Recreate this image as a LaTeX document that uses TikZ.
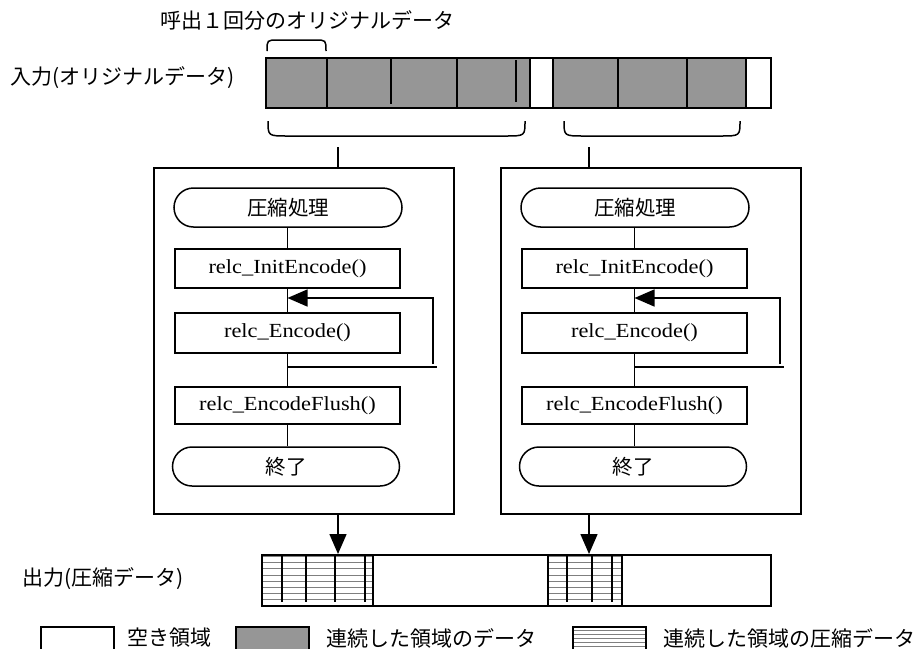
\documentclass[tikz,border=0pt]{standalone}
\usepackage{fontspec}
\newfontfamily\jpfont{Noto Sans CJK JP}
\newfontfamily\serfont[FakeStretch=1.12]{Liberation Serif}
\usetikzlibrary{shapes.misc,arrows.meta}
\definecolor{datagray}{HTML}{969696}
\definecolor{hatchgray}{HTML}{7F7F7F}
\begin{document}
\begin{tikzpicture}[x=1pt,y=-1pt,
  jp/.style={font=\jpfont\fontsize{21}{24}\selectfont, inner sep=0pt},
  term/.style={draw, line width=1.5pt, rounded rectangle, minimum width=228, minimum height=39, font=\jpfont\fontsize{20.5}{24}\selectfont, inner sep=0pt},
  proc/.style={draw, line width=1.5pt, rectangle, minimum width=225, minimum height=39, font=\serfont\fontsize{20}{24}\selectfont, inner sep=0pt},
  outerbox/.style={draw, line width=1.5pt, minimum width=300, minimum height=346, inner sep=0pt, anchor=north west},
  conn/.style={line width=1.5pt},
  arrowhd/.style={-{Triangle[length=20pt,width=17pt]}},
  hatchline/.style={draw=hatchgray, line width=0.7pt},
  divline/.style={line width=1.8pt},
  bar/.style={draw, line width=1.8pt, inner sep=0pt, anchor=north west},
  lgbox/.style={draw, line width=1.5pt, minimum width=73, minimum height=30, inner sep=0pt, anchor=north west}
]
\useasboundingbox (0,0) rectangle (920,648);
\clip (0,0) rectangle (920,648);

% ---------- top label and small brace
\node[jp] (calllbl) at (307,20) {呼出１回分のオリジナルデータ};
\draw[conn] (267,51) .. controls (267,40) .. (278,40) -- (315,40) .. controls (326,40) .. (326,51);

% ---------- input bar
\node[jp, anchor=west] (inlbl) at (10,78) {入力(オリジナルデータ)};
\fill[datagray] (265,57) rectangle (530,107);
\fill[datagray] (553,57) rectangle (746,107);
\node[bar, minimum width=505, minimum height=50] (inbar) at (265,57) {};
\draw[divline] (327,57) -- (327,107);
\draw[divline] (391,57) -- (391,104);
\draw[divline] (457,57) -- (457,107);
\draw[divline] (516,60) -- (516,102);
\draw[divline] (530,57) -- (530,107);
\draw[divline] (553,57) -- (553,107);
\draw[divline] (618,57) -- (618,107);
\draw[divline] (687,57) -- (687,107);
\draw[divline] (746,57) -- (746,107);

% ---------- lower braces
\draw[conn] (268,121) .. controls (268,136) .. (288,136) -- (505,136) .. controls (525,136) .. (525,121);
\draw[conn] (564,121) .. controls (564,136) .. (584,136) -- (720,136) .. controls (740,136) .. (740,121);
\coordinate (stemL) at (338,147);
\coordinate (stemR) at (589,147);

% ---------- the two flowcharts
\foreach \n/\dx in {L/0,R/347}{
  \node[outerbox] (box\n) at (153+\dx,167) {};
  \node[term] (start\n) at (288+\dx,207.5) {圧縮処理};
  \node[proc] (init\n) at (287.5+\dx,268.5) {relc\_InitEncode()};
  \node[proc, minimum height=40] (enc\n) at (287.5+\dx,333) {relc\_Encode()};
  \node[proc, minimum height=37] (flush\n) at (287.5+\dx,405.5) {relc\_EncodeFlush()};
  \node[term, minimum width=227] (end\n) at (286+\dx,466.5) {終了};
  \coordinate (j\n) at (287.5+\dx,367);
  \coordinate (je\n) at (437+\dx,367);
  \coordinate (lt\n) at (433+\dx,364);
  \coordinate (lb\n) at (433+\dx,298);
  \coordinate (la\n) at (287.5+\dx,298);
  \draw[conn] (start\n.south -| init\n) -- (init\n.north);
  \draw[conn] (init\n) -- (enc\n);
  \draw[conn] (enc\n) -- (flush\n);
  \draw[conn] (flush\n.south) -- (end\n.north -| flush\n);
  \draw[conn] (j\n) -- (je\n);
  \draw[conn, arrowhd] (lt\n) -- (lb\n) -- (la\n);
}
\draw[conn] (stemL) -- (stemL |- boxL.north);
\draw[conn] (stemR) -- (stemR |- boxR.north);

% ---------- output bar
\node[jp, anchor=west] (outlbl) at (22,579) {出力(圧縮データ)};
\foreach \y in {556.6,562.7,...,600}{
  \draw[hatchline] (261,\y) -- (373,\y);
  \draw[hatchline] (548,\y) -- (622,\y);
}
\node[bar, minimum width=509, minimum height=51] (outbar) at (261,554) {};
\foreach \x in {282,306,335,365,567,592,612}{
  \draw[divline] (\x,554) -- (\x,602);
}
\draw[divline] (373,554) -- (373,605);
\draw[divline] (548,554) -- (548,605);
\draw[divline] (622,554) -- (622,605);
\draw[conn, arrowhd] (stemL |- boxL.south) -- (stemL |- outbar.north);
\draw[conn, arrowhd] (stemR |- boxR.south) -- (stemR |- outbar.north);

% ---------- legend
\node[lgbox] (lgfree) at (40,626) {};
\node[jp, anchor=west] (lgfreet) at (127,638) {空き領域};
\fill[datagray] (235,626) rectangle (308,660);
\node[lgbox] (lgdata) at (235,626) {};
\node[jp, anchor=west] (lgdatat) at (326,638) {連続した領域のデータ};
\foreach \y in {630,634,...,648}{
  \draw[hatchline, line width=0.5pt] (572,\y) -- (645,\y);
}
\node[lgbox] (lgcomp) at (572,626) {};
\node[jp, anchor=west] (lgcompt) at (663,638) {連続した領域の圧縮データ};
\end{tikzpicture}
\end{document}
